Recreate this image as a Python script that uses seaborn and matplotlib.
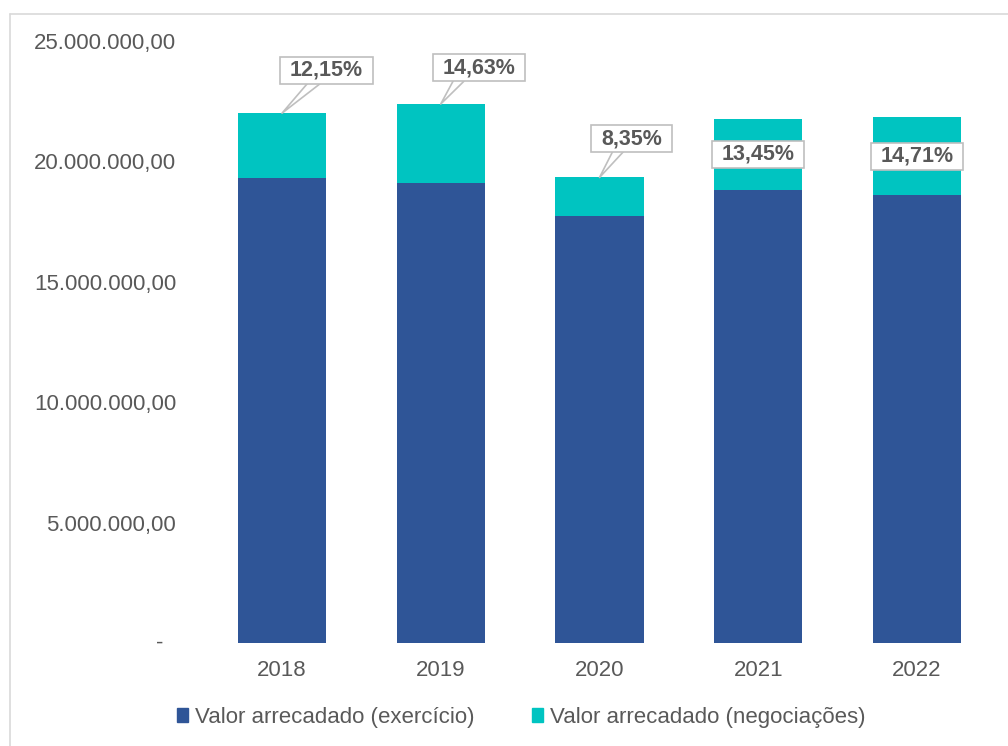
import matplotlib
matplotlib.use("Agg")
import matplotlib.pyplot as plt
import pandas as pd
import seaborn as sns
from matplotlib.lines import Line2D
from matplotlib.patches import Patch

# Arrecadação anual (R$)
anos = ["2018", "2019", "2020", "2021", "2022"]
exercicio = [19.33e6, 19.11e6, 17.72e6, 18.83e6, 18.62e6]
negociacoes = [2.673e6, 3.275e6, 1.614e6, 2.926e6, 3.211e6]
y_ticks = [0, 5e6, 10e6, 15e6, 20e6, 25e6]
serie_labels = ["Valor arrecadado (exercício)", "Valor arrecadado (negociações)"]

AZUL = "#2F5597"
TURQUESA = "#00C4C1"
CINZA = "#595959"
BORDA = "#BFBFBF"

sns.set_theme(style="white")
plt.rcParams["font.family"] = ["Liberation Sans", "DejaVu Sans"]

df = pd.DataFrame({"ano": anos, "exercicio": exercicio, "negociacoes": negociacoes})
df["total"] = df["exercicio"] + df["negociacoes"]
df["pct"] = df["negociacoes"] / df["total"] * 100

fig = plt.figure(figsize=(10.08, 7.46), dpi=100)
ax = fig.add_axes([0.201, 0.138, 0.7875, 0.807])

# stacked bars: total (negociações on top) with exercício drawn over the base
sns.barplot(data=df, x="ano", y="total", color=TURQUESA, width=0.555,
            saturation=1, errorbar=None, linewidth=0, ax=ax)
sns.barplot(data=df, x="ano", y="exercicio", color=AZUL, width=0.555,
            saturation=1, errorbar=None, linewidth=0, ax=ax)

ax.set_xlim(-0.5, 4.5)
ax.set_ylim(0, 25e6)
ax.set_xlabel("")
ax.set_ylabel("")
sns.despine(ax=ax, left=True, bottom=True)


def fmt_brl(v):
    s = f"{v:,.2f}"
    return s.replace(",", "X").replace(".", ",").replace("X", ".")


ax.set_yticks(y_ticks)
ax.set_yticklabels(["" if v == 0 else fmt_brl(v) for v in y_ticks])
ax.tick_params(axis="y", length=0, pad=19, labelsize=16, labelcolor=CINZA)
ax.tick_params(axis="x", length=0, pad=12, labelsize=16, labelcolor=CINZA)
ax.text(-0.05, 0, "-", transform=ax.get_yaxis_transform(), ha="right",
        va="center", fontsize=16, color=CINZA)

# percentage labels (share of negociações in the total)
callouts = {0: ((32, 31), 0.36), 1: ((27.5, 26), 0.24), 2: ((23, 28), 0.30)}
for i, row in df.iterrows():
    texto = f"{row.pct:.2f}%".replace(".", ",")
    caixa = dict(boxstyle="square,pad=0.45", mutation_aspect=0.31,
                 fc="white", ec=BORDA, lw=1.2)
    if i in callouts:
        off, rx = callouts[i]
        ax.annotate(texto, xy=(i, row.total), xytext=off,
                    textcoords="offset points", ha="center", va="center",
                    fontsize=15.5, fontweight="bold", color=CINZA, bbox=caixa,
                    arrowprops=dict(arrowstyle="wedge,tail_width=0.45,shrink_factor=0.5",
                                    fc="white", ec=BORDA, lw=1.2,
                                    shrinkA=0, shrinkB=0, patchA=None,
                                    relpos=(rx, 0)))
    else:
        ax.annotate(texto, xy=(i, row.exercicio + row.negociacoes / 2),
                    ha="center", va="center", fontsize=15.5,
                    fontweight="bold", color=CINZA, bbox=caixa)

# chart area frame
fig.add_artist(Line2D([10 / 1008, 1], [1 - 14 / 746] * 2, color="#D9D9D9",
                      lw=1.2, transform=fig.transFigure))
fig.add_artist(Line2D([10 / 1008] * 2, [0, 1 - 14 / 746], color="#D9D9D9",
                      lw=1.2, transform=fig.transFigure))

handles = [Patch(color=AZUL, label=serie_labels[0]),
           Patch(color=TURQUESA, label=serie_labels[1])]
fig.legend(handles=handles, loc="center", bbox_to_anchor=(521 / 1008, 1 - 717 / 746),
           ncol=2, frameon=False, fontsize=16, labelcolor=CINZA,
           handlelength=0.5, handleheight=0.6, handletextpad=0.3,
           columnspacing=2.6, borderpad=0)

fig.savefig("out.png", dpi=100)
